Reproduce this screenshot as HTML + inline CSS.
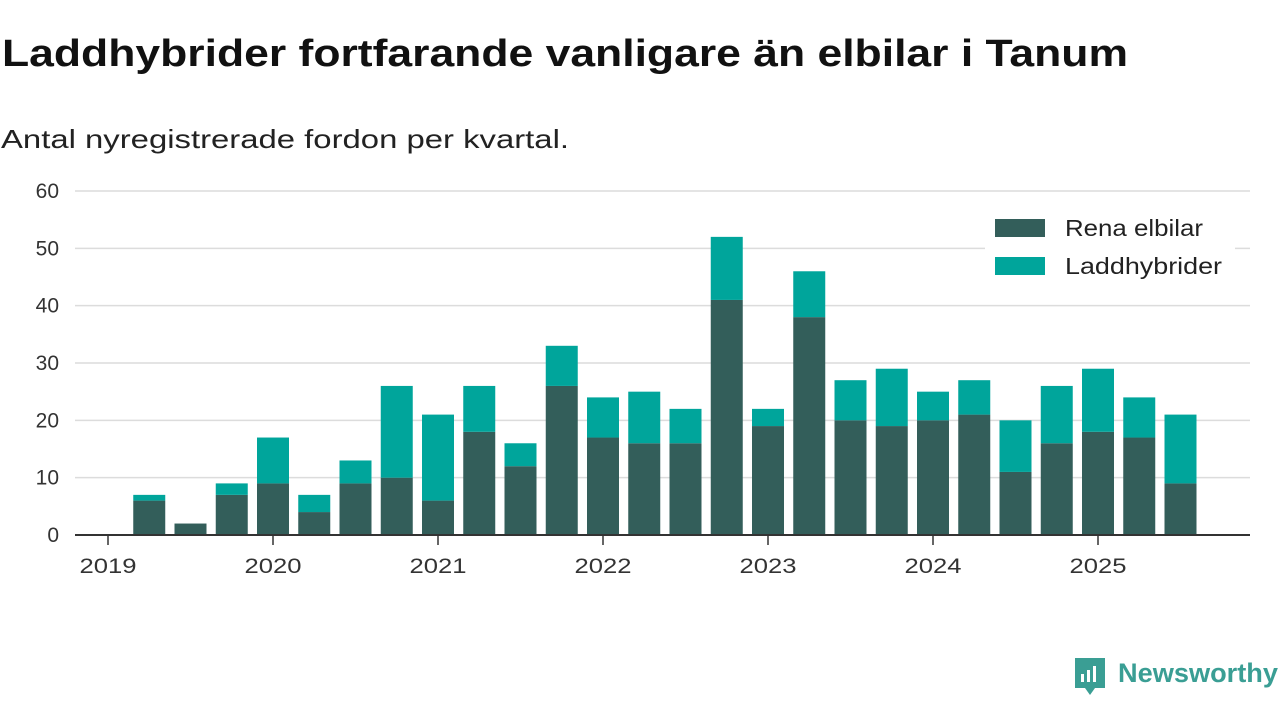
<!DOCTYPE html>
<html><head><meta charset="utf-8">
<style>
html,body{margin:0;padding:0;background:#fff;}
svg{display:block;font-family:"Liberation Sans",sans-serif;}
</style></head>
<body>
<svg id="chart" width="1280" height="720" viewBox="0 0 1280 720" xmlns="http://www.w3.org/2000/svg">
<text x="2" y="66" font-size="38" font-weight="bold" fill="#111" textLength="1126" lengthAdjust="spacingAndGlyphs">Laddhybrider fortfarande vanligare än elbilar i Tanum</text>
<text x="1" y="148" font-size="26" fill="#222" textLength="568" lengthAdjust="spacingAndGlyphs">Antal nyregistrerade fordon per kvartal.</text>
<g id="grid"></g>
<g id="bars"></g>
<g id="axes"></g>
<g>
<rect x="985" y="208" width="250" height="80" fill="#fff"/>
<rect x="995" y="219" width="50" height="18" fill="#335e5a"/>
<text x="1065" y="236" font-size="23" fill="#222" textLength="138" lengthAdjust="spacingAndGlyphs">Rena elbilar</text>
<rect x="995" y="257" width="50" height="18" fill="#00a59b"/>
<text x="1065" y="274" font-size="23" fill="#222" textLength="157" lengthAdjust="spacingAndGlyphs">Laddhybrider</text>
</g>
<g>
<path d="M1075 658 h30 v30 h-10 l-5 7 l-5 -7 h-10 z" fill="#3a9e94"/>
<rect x="1081" y="674" width="3" height="8" fill="#fff"/>
<rect x="1087" y="670" width="3" height="12" fill="#fff"/>
<rect x="1093" y="666" width="3" height="16" fill="#fff"/>
<text x="1118" y="682" font-size="27" font-weight="bold" fill="#3a9e94" textLength="160" lengthAdjust="spacingAndGlyphs">Newsworthy</text>
</g>
</svg>
<script>
const elbilar = [6,2,7,9,4,9,10,6,18,12,26,17,16,16,41,19,38,20,19,20,21,11,16,18,17,9];
const laddhybrider = [1,0,2,8,3,4,16,15,8,4,7,7,9,6,11,3,8,7,10,5,6,9,10,11,7,12];
const yTicks = [0,10,20,30,40,50,60];
const yearLabels = ["2019","2020","2021","2022","2023","2024","2025"];
const NS="http://www.w3.org/2000/svg";
function y(v){return 535 - v*(344/60);}
function xq(i){return 108 + 41.25*i;}
function mk(tag,attrs,parent){const e=document.createElementNS(NS,tag);for(const k in attrs)e.setAttribute(k,attrs[k]);parent.appendChild(e);return e;}
const grid=document.getElementById('grid'),bars=document.getElementById('bars'),axes=document.getElementById('axes');
yTicks.forEach(t=>{
  if(t>0){const l=mk('line',{x1:75,x2:1250,y1:y(t),y2:y(t),stroke:'#dcdcdc','stroke-width':1.5},grid);
  
  }
  const tx=mk('text',{x:59,y:y(t)+7,'font-size':21,fill:'#333','text-anchor':'end'},axes);
  tx.textContent=t;
  
  
});
const bw=32;
elbilar.forEach((v,i)=>{
  const cx=xq(i+1);
  const r1=mk('rect',{x:cx-bw/2,y:y(v),width:bw,height:y(0)-y(v),fill:'#335e5a'},bars);
  
  
  const h=laddhybrider[i];
  if(h>0){const r2=mk('rect',{x:cx-bw/2,y:y(v+h),width:bw,height:y(v)-y(v+h),fill:'#00a59b'},bars);
  
  }
});
const ax=mk('line',{x1:75,x2:1250,y1:535,y2:535,stroke:'#333','stroke-width':2},axes);


yearLabels.forEach((lab,i)=>{
  const x=xq(i*4);
  const tk=mk('line',{x1:x,x2:x,y1:535,y2:545,stroke:'#333','stroke-width':1.5},axes);
  
  
  const tx=mk('text',{x:x-28.5,y:573,'font-size':21,fill:'#333',textLength:57,lengthAdjust:'spacingAndGlyphs'},axes);
  tx.textContent=lab;
  
  
});
</script>
</body></html>
